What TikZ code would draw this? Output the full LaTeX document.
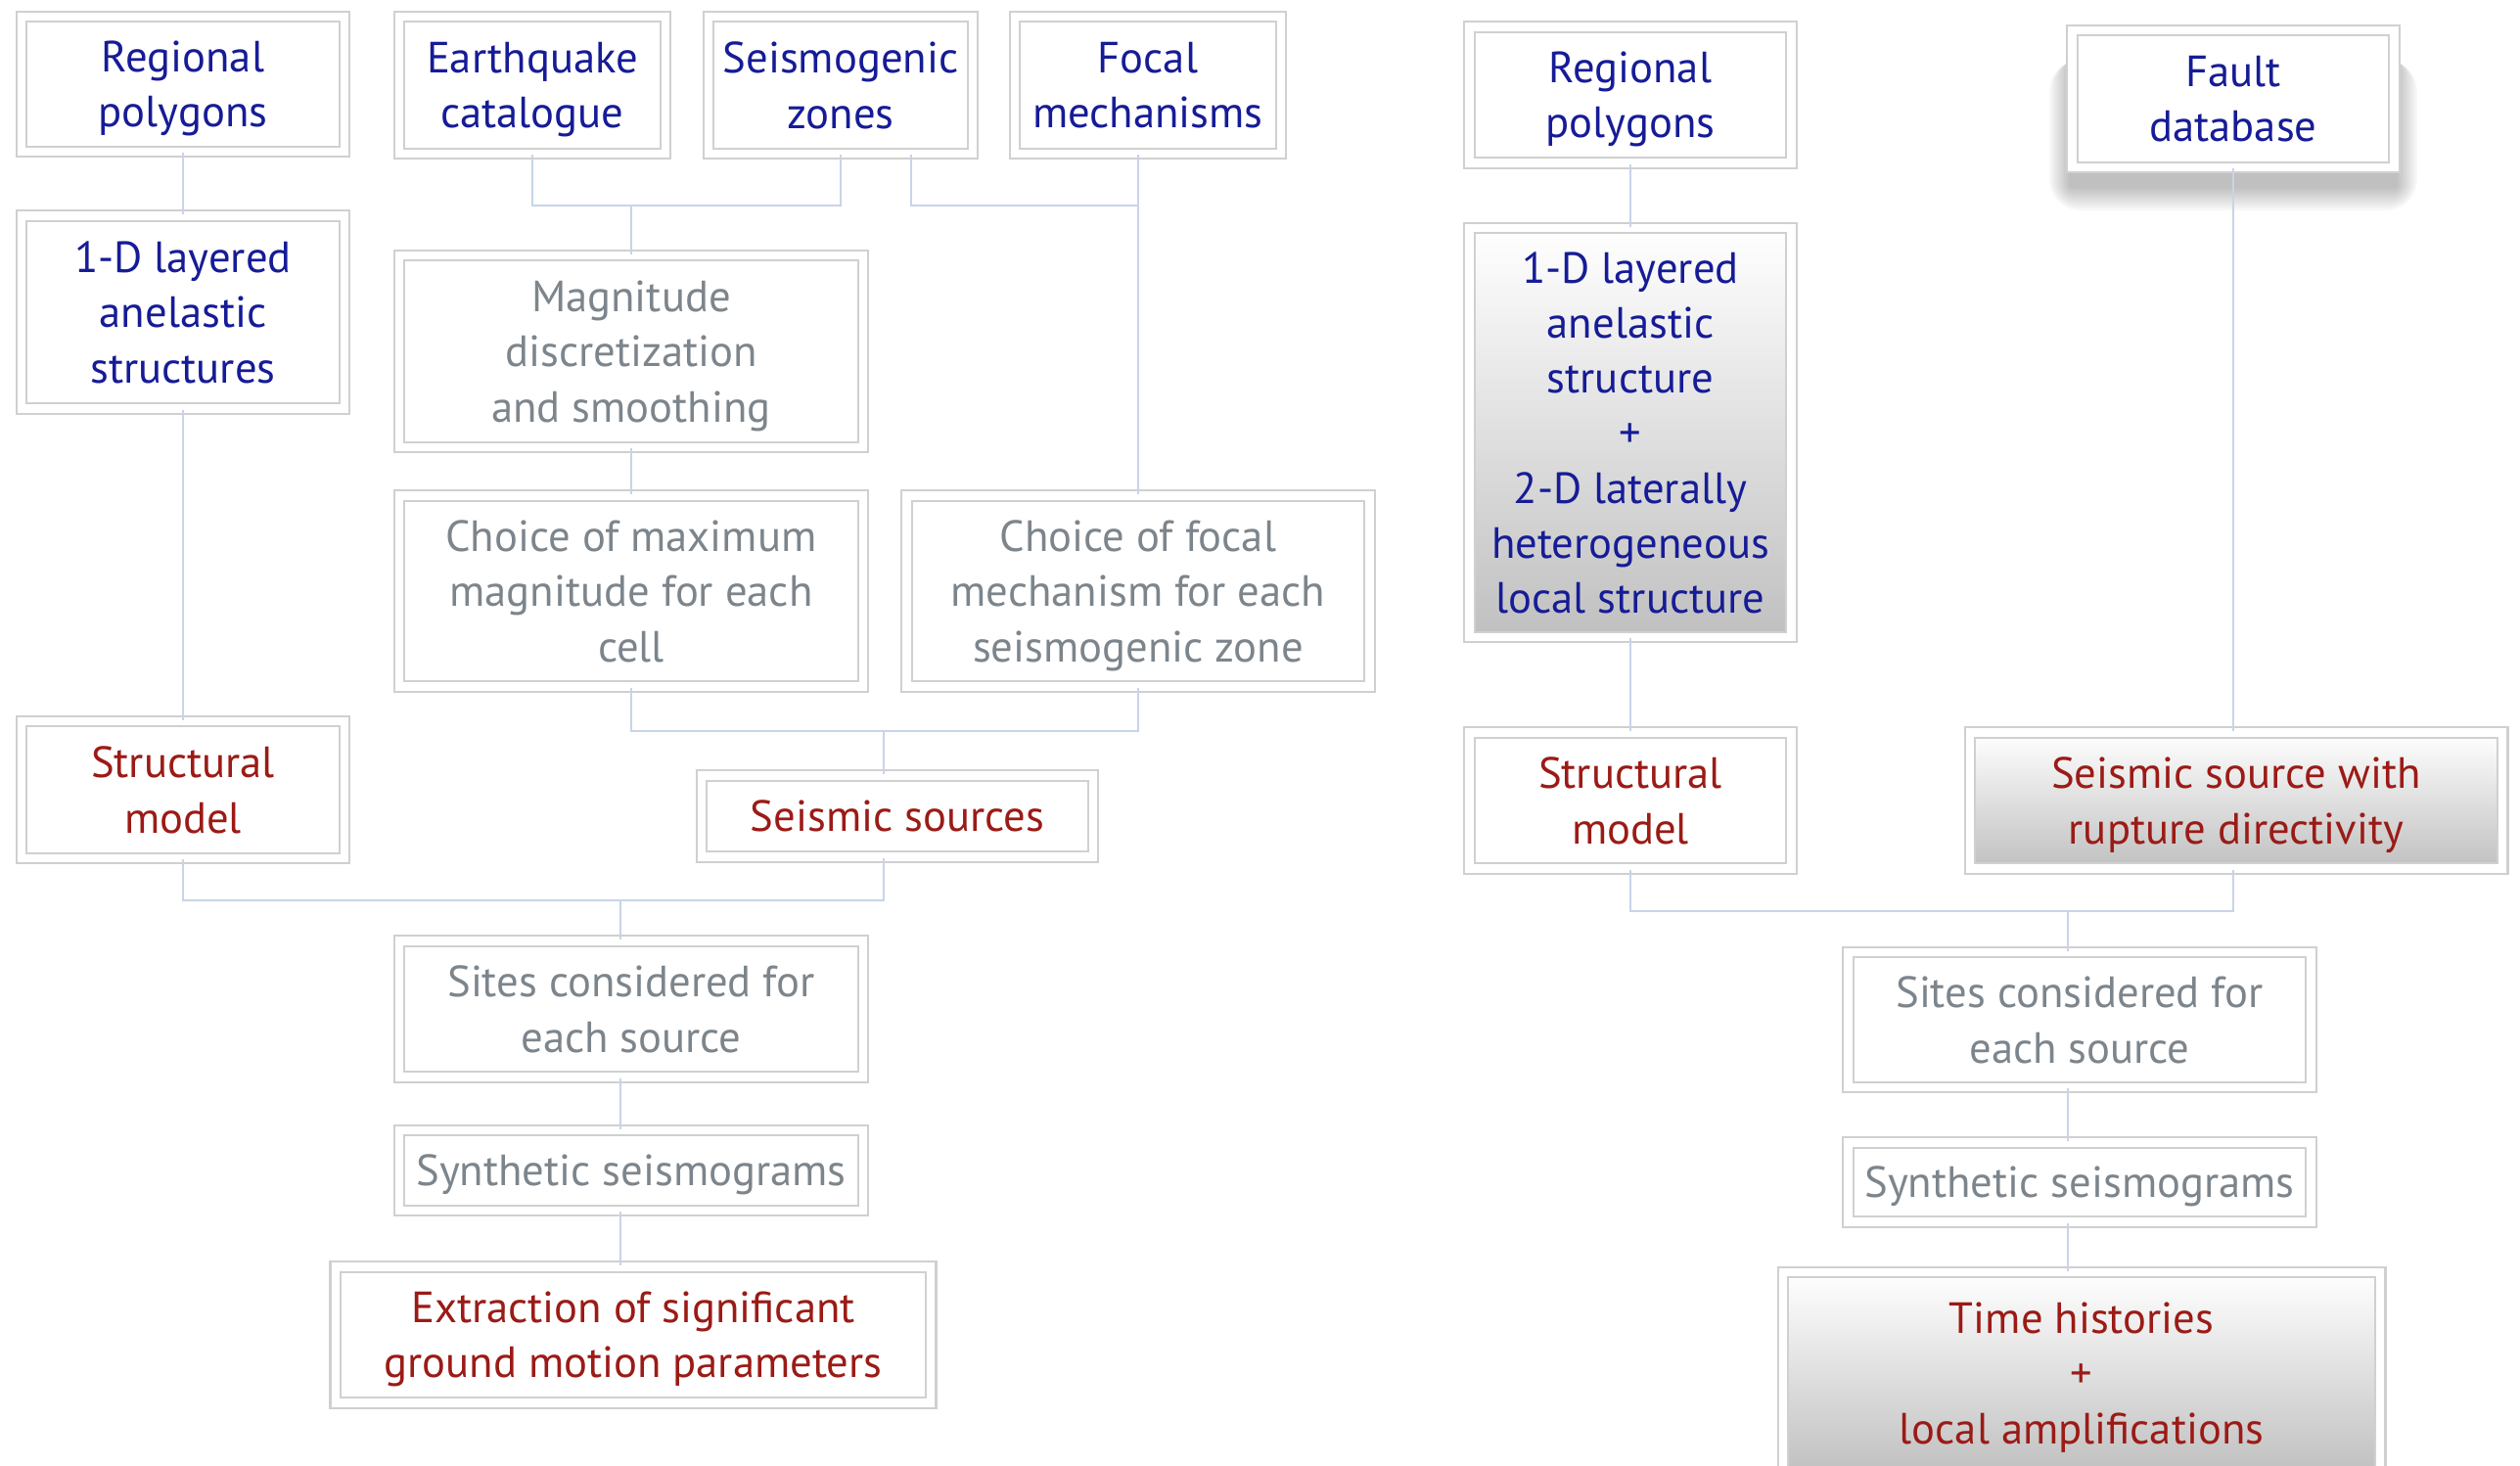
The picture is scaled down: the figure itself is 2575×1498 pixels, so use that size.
\documentclass[tikz,border=0pt]{standalone}
\usepackage{fontspec}
\setmainfont{PT Sans}
\usetikzlibrary{positioning, backgrounds}
\definecolor{cbleu}{RGB}{22,28,150}
\definecolor{crouge}{RGB}{155,27,22}
\definecolor{cgris}{RGB}{125,133,140}
\definecolor{cligne}{RGB}{200,212,232}
\definecolor{ccadre}{RGB}{208,208,208}
\definecolor{cfond}{RGB}{192,192,192}

\begin{document}
\begin{tikzpicture}[x=0.01cm, y=-0.01cm,
    boite/.style={draw=ccadre, line width=0.6pt, double=white, double distance=2.4pt,
      fill=white, align=center, inner sep=0pt, text depth=0pt,
      font=\fontsize{12.7}{16}\selectfont},
    entree/.style={boite, text=cbleu},
    calcul/.style={boite, text=cgris},
    sortie/.style={boite, text=crouge},
    degrade/.style={top color=white, bottom color=cfond},
    lien/.style={draw=cligne, line width=0.8pt}]
  \useasboundingbox (0,0) rectangle (2575,1498);
  \clip (0,0) rectangle (2575,1498);

  % chaine de gauche : modele regional
  \node[entree, minimum width=3.30cm, minimum height=1.38cm] (rpa) at (187,86)
       {Regional\\polygons};
  \node[entree, minimum width=2.72cm, minimum height=1.40cm] (ec) at (544,87)
       {Earthquake\\catalogue};
  \node[entree, minimum width=2.70cm, minimum height=1.40cm] (sz) at (859,87)
       {Seismogenic\\zones};
  \node[entree, minimum width=2.72cm, minimum height=1.40cm] (fm) at (1173,87)
       {Focal\\mechanisms};
  \node[entree, minimum width=3.30cm, minimum height=1.97cm] (lsa) at (187,319)
       {1-D layered\\anelastic\\structures};
  \node[calcul, minimum width=4.74cm, minimum height=1.96cm] (md) at (645,359)
       {Magnitude\\discretization\\and smoothing};
  \node[calcul, minimum width=4.74cm, minimum height=1.95cm] (cm) at (645,604)
       {Choice of maximum\\magnitude for each\\cell};
  \node[calcul, minimum width=4.73cm, minimum height=1.95cm] (cf) at (1163,604)
       {Choice of focal\\mechanism for each\\seismogenic zone};
  \node[sortie, minimum width=3.30cm, minimum height=1.40cm] (sma) at (187,807)
       {Structural\\model};
  \node[sortie, minimum width=4.00cm, minimum height=0.83cm] (ss) at (917,834)
       {Seismic sources};
  \node[calcul, minimum width=4.74cm, minimum height=1.39cm] (sca) at (645,1031)
       {Sites considered for\\each source};
  \node[calcul, minimum width=4.74cm, minimum height=0.82cm] (sya) at (645,1196)
       {Synthetic seismograms};
  \node[sortie, minimum width=6.08cm, minimum height=1.39cm] (ex) at (647,1364)
       {Extraction of significant\\ground motion parameters};

  % chaine de droite : modele local
  \node[entree, minimum width=3.29cm, minimum height=1.39cm] (rpb) at (1666,97)
       {Regional\\polygons};
  \node[entree, minimum width=3.29cm, minimum height=1.40cm] (fd) at (2282,101)
       {Fault\\database};
  \node[entree, degrade, minimum width=3.29cm, minimum height=4.18cm] (lsb) at (1666,442)
       {1-D layered\\anelastic\\structure\\+\\2-D laterally\\heterogeneous\\local structure};
  \node[sortie, minimum width=3.29cm, minimum height=1.39cm] (smb) at (1666,818)
       {Structural\\model};
  \node[sortie, degrade, minimum width=5.44cm, minimum height=1.39cm] (sd) at (2285,818)
       {Seismic source with\\rupture directivity};
  \node[calcul, minimum width=4.73cm, minimum height=1.38cm] (scb) at (2125,1042)
       {Sites considered for\\each source};
  \node[calcul, minimum width=4.73cm, minimum height=0.81cm] (syb) at (2125,1208)
       {Synthetic seismograms};
  \node[sortie, degrade, minimum width=6.10cm, minimum height=2.06cm] (th) at (2127,1403)
       {Time histories\\+\\local amplifications};

  % ombre floue sous la base de failles
  \begin{scope}[on background layer]
    \foreach \e in {1,...,9}
      \fill[black, opacity=0.032, rounded corners=\e pt]
        ([shift={({-\e*0.7pt},{-9pt})}]fd.north west)
        rectangle ([shift={({\e*0.7pt},{-5pt-\e*0.8pt})}]fd.south east);
  \end{scope}

  % liaisons a gauche
  \coordinate (j1) at (645,210);
  \coordinate (j2) at (931,210);
  \coordinate (j3) at (903,747);
  \coordinate (j4) at (634,920);
  \draw[lien] (rpa.south) -- (lsa.north);
  \draw[lien] (lsa.south) -- (sma.north);
  \draw[lien] (ec.south) -- (ec.south |- j1) -- (sz.south |- j1) -- (sz.south);
  \draw[lien] (j1) -- (md.north);
  \draw[lien] (sz.south -| j2) -- (j2) -- (j2 -| cf.north);
  \draw[lien] (fm.south -| cf.north) -- (cf.north);
  \draw[lien] (md.south) -- (cm.north);
  \draw[lien] (cm.south) -- (cm.south |- j3) -- (cf.south |- j3) -- (cf.south);
  \draw[lien] (j3) -- (j3 |- ss.north);
  \draw[lien] (sma.south) -- (sma.south |- j4) -- (j3 |- j4) -- (j3 |- ss.south);
  \draw[lien] (j4) -- (j4 |- sca.north);
  \draw[lien] (j4 |- sca.south) -- (j4 |- sya.north);
  \draw[lien] (j4 |- sya.south) -- (j4 |- ex.north);

  % liaisons a droite
  \coordinate (j5) at (2113,931);
  \draw[lien] (rpb.south) -- (lsb.north);
  \draw[lien] (lsb.south) -- (smb.north);
  \draw[lien] (fd.south) -- (fd.south |- sd.north);
  \draw[lien] (smb.south) -- (smb.south |- j5) -- (fd.south |- j5) -- (fd.south |- sd.south);
  \draw[lien] (j5) -- (j5 |- scb.north);
  \draw[lien] (j5 |- scb.south) -- (j5 |- syb.north);
  \draw[lien] (j5 |- syb.south) -- (j5 |- th.north);
\end{tikzpicture}
\end{document}
